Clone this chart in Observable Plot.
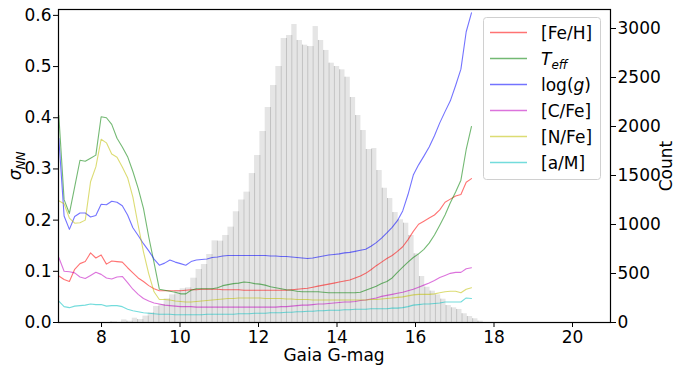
<!DOCTYPE html>
<html><head><meta charset="utf-8">
<script src="https://cdn.jsdelivr.net/npm/d3@7"></script>
<script src="https://cdn.jsdelivr.net/npm/@observablehq/plot@0.6"></script>
<style>
body{margin:0;background:#fff;}
#chart{width:676px;height:368px;}
</style></head><body><div id="chart"></div>
<script>
// Histogram of Gaia G-mag (right axis, counts)
const binStart = 8.241, binWidth = 0.1355;
const histCounts = [7,3,27,13,44,30,65,99,163,184,
  241,282,327,344,354,452,541,592,694,833,
  830,888,973,1130,1250,1330,1520,1704,1949,2194,
  2418,2612,2898,2929,3041,2878,2830,2816,3020,2878,
  2776,2646,2612,2578,2503,2296,2112,1959,1765,1775,
  1551,1370,1265,1122,1048,1013,888,701,469,360,
  320,282,238,173,150,133,89,61,38,13];

// sigma_NN curves sampled on a regular G-mag grid
const gStart = 6.912, gStep = 0.1348;
const feh = [0.091,0.084,0.080,0.104,0.115,0.119,0.136,0.126,0.132,0.114,
 0.120,0.119,0.118,0.107,0.097,0.087,0.080,0.072,0.066,0.062,
 0.062,0.062,0.062,0.062,0.063,0.064,0.064,0.065,0.065,0.065,
 0.065,0.064,0.064,0.064,0.064,0.063,0.063,0.063,0.063,0.063,
 0.063,0.063,0.063,0.063,0.064,0.065,0.066,0.067,0.069,0.071,
 0.073,0.075,0.077,0.079,0.081,0.083,0.087,0.091,0.096,0.103,
 0.111,0.118,0.125,0.131,0.139,0.148,0.162,0.178,0.192,0.198,
 0.204,0.210,0.220,0.235,0.241,0.247,0.250,0.274,0.281];
const teff = [0.405,0.240,0.213,0.265,0.317,0.315,0.321,0.327,0.402,0.400,
 0.387,0.360,0.343,0.324,0.295,0.262,0.223,0.167,0.117,0.065,
 0.063,0.061,0.059,0.056,0.056,0.063,0.066,0.066,0.066,0.066,
 0.068,0.072,0.074,0.076,0.077,0.079,0.078,0.076,0.075,0.073,
 0.070,0.068,0.066,0.064,0.063,0.061,0.060,0.060,0.060,0.060,
 0.059,0.058,0.058,0.058,0.058,0.058,0.058,0.059,0.063,0.067,
 0.071,0.076,0.080,0.087,0.098,0.108,0.118,0.127,0.134,0.143,
 0.155,0.171,0.190,0.210,0.234,0.255,0.278,0.338,0.383];
const logg = [0.360,0.208,0.182,0.207,0.214,0.214,0.206,0.209,0.231,0.230,
 0.237,0.235,0.228,0.210,0.185,0.170,0.154,0.140,0.124,0.112,
 0.116,0.122,0.118,0.115,0.112,0.119,0.122,0.123,0.124,0.127,
 0.128,0.130,0.131,0.131,0.131,0.131,0.131,0.131,0.131,0.131,
 0.130,0.130,0.129,0.129,0.128,0.127,0.126,0.125,0.126,0.128,
 0.130,0.132,0.133,0.134,0.136,0.137,0.139,0.141,0.143,0.149,
 0.156,0.165,0.175,0.186,0.199,0.218,0.250,0.288,0.308,0.325,
 0.343,0.365,0.390,0.412,0.433,0.463,0.495,0.568,0.605];
const cfe = [0.127,0.100,0.099,0.097,0.089,0.086,0.092,0.098,0.094,0.087,
 0.085,0.089,0.090,0.078,0.065,0.055,0.047,0.042,0.038,0.036,
 0.034,0.033,0.032,0.031,0.031,0.031,0.030,0.030,0.030,0.030,
 0.030,0.030,0.030,0.030,0.030,0.030,0.030,0.030,0.030,0.030,
 0.030,0.030,0.031,0.031,0.032,0.033,0.034,0.034,0.035,0.036,
 0.036,0.037,0.038,0.039,0.040,0.040,0.041,0.043,0.044,0.046,
 0.048,0.051,0.053,0.055,0.057,0.059,0.062,0.065,0.069,0.073,
 0.077,0.082,0.088,0.092,0.096,0.098,0.098,0.105,0.107];
const nfe = [0.238,0.232,0.204,0.194,0.195,0.200,0.275,0.304,0.358,0.351,
 0.329,0.323,0.304,0.283,0.245,0.190,0.138,0.095,0.060,0.045,
 0.045,0.044,0.042,0.041,0.040,0.040,0.041,0.042,0.043,0.044,
 0.045,0.046,0.047,0.047,0.048,0.048,0.048,0.048,0.048,0.047,
 0.047,0.047,0.047,0.046,0.046,0.045,0.045,0.045,0.044,0.044,
 0.044,0.044,0.044,0.044,0.044,0.044,0.044,0.044,0.044,0.045,
 0.045,0.046,0.047,0.048,0.049,0.050,0.052,0.054,0.055,0.055,
 0.055,0.056,0.058,0.060,0.061,0.061,0.058,0.065,0.068];
const am = [0.042,0.031,0.029,0.032,0.033,0.034,0.036,0.035,0.035,0.032,
 0.033,0.033,0.031,0.026,0.023,0.021,0.019,0.018,0.017,0.016,
 0.016,0.016,0.015,0.015,0.015,0.015,0.015,0.015,0.016,0.016,
 0.016,0.016,0.016,0.016,0.017,0.017,0.017,0.018,0.018,0.018,
 0.019,0.019,0.019,0.020,0.020,0.021,0.021,0.022,0.022,0.023,
 0.023,0.024,0.024,0.024,0.025,0.025,0.026,0.026,0.026,0.027,
 0.027,0.027,0.027,0.028,0.028,0.029,0.031,0.034,0.035,0.036,
 0.036,0.037,0.038,0.040,0.040,0.040,0.040,0.048,0.047];

const seriesNames = ["[Fe/H]", "Teff", "log(g)", "[C/Fe]", "[N/Fe]", "[a/M]"];
const seriesValues = [feh, teff, logg, cfe, nfe, am];
const seriesColors = ["#ff0000", "#008000", "#0000ff", "#bf00bf", "#bfbf00", "#00bfbf"];

const xTicks = [8, 10, 12, 14, 16, 18, 20];
const sigmaTicks = [0, 0.1, 0.2, 0.3, 0.4, 0.5, 0.6];
const countTicks = [0, 500, 1000, 1500, 2000, 2500, 3000];

const xDomain = [6.904, 20.968];
const sigmaMax = 0.6115, countMax = 3194;
const k = sigmaMax / countMax; // count -> sigma units (twin axis)

const hist = histCounts.map((c, i) => ({
  x1: binStart + i * binWidth, x2: binStart + (i + 1) * binWidth, c,
  edge: Math.min(c, i > 0 ? histCounts[i - 1] : c)
}));

const lines = seriesNames.map((name, s) =>
  seriesValues[s].map((v, j) => ({x: gStart + j * gStep, y: v, name})));

const font = "DejaVu Sans, sans-serif";

const plot = Plot.plot({
  width: 676, height: 368,
  marginLeft: 58, marginRight: 66, marginTop: 9, marginBottom: 46,
  x: {domain: xDomain},
  y: {domain: [0, sigmaMax]},
  style: {fontFamily: font, fontSize: "17px", color: "#000", background: "#fff", overflow: "visible"},
  marks: [
    Plot.rect(hist, {x1: "x1", x2: "x2", y1: 0, y2: d => d.c * k, fill: "#e5e5e5"}),
    Plot.ruleX(hist, {x: "x1", y1: 0, y2: d => d.edge * k, stroke: "#c2c2c2", strokeWidth: 1}),
    ...lines.map((data, s) => Plot.line(data, {x: "x", y: "y", stroke: seriesColors[s], strokeOpacity: 0.55, strokeWidth: 1.1})),
    Plot.frame({stroke: "#000", strokeWidth: 1.2}),
    Plot.axisX({ticks: xTicks, tickSize: 5, tickPadding: 3, label: null, fontSize: 17}),
    Plot.axisY({ticks: sigmaTicks, tickFormat: d3.format(".1f"), tickSize: 5, tickPadding: 2, label: null, fontSize: 17}),
    Plot.axisY({anchor: "right", ticks: countTicks.map(c => c * k), tickFormat: d => String(Math.round(d / k)),
      tickSize: 5, tickPadding: 2, label: null, fontSize: 17})
  ]
});
document.getElementById("chart").appendChild(plot);

const svg = d3.select(plot);
// axis titles
svg.append("text").attr("x", 334).attr("y", 361).attr("text-anchor", "middle")
  .attr("font-family", font).attr("font-size", 17).text("Gaia G-mag");
const yl = svg.append("text").attr("transform", "translate(21,166) rotate(-90)")
  .attr("text-anchor", "middle").attr("font-family", font).attr("font-size", 17);
yl.append("tspan").attr("font-style", "italic").text("σ");
yl.append("tspan").attr("font-style", "italic").attr("font-size", 12).attr("dy", 4).text("NN");
svg.append("text").attr("transform", "translate(672,166) rotate(-90)")
  .attr("text-anchor", "middle").attr("font-family", font).attr("font-size", 17).text("Count");

// legend
const lg = svg.append("g").attr("font-family", font).attr("font-size", 17).attr("text-anchor", "start");
lg.append("rect").attr("x", 483.5).attr("y", 17.5).attr("width", 117).attr("height", 162).attr("rx", 3)
  .attr("fill", "#fff").attr("fill-opacity", 0.85).attr("stroke", "#d0d0d0");
seriesNames.forEach((name, i) => {
  const y = 32.5 + i * 26;
  lg.append("line").attr("x1", 490).attr("x2", 527).attr("y1", y).attr("y2", y)
    .attr("stroke", seriesColors[i]).attr("stroke-opacity", 0.55).attr("stroke-width", 1.3);
  const t = lg.append("text").attr("x", 541).attr("y", y + 6).attr("text-anchor", "start");
  if (name === "Teff") {
    t.append("tspan").attr("font-style", "italic").text("T");
    t.append("tspan").attr("font-style", "italic").attr("font-size", 12).attr("dy", 4).text("eff");
  } else if (name === "log(g)") {
    t.append("tspan").text("log(");
    t.append("tspan").attr("font-style", "italic").text("g");
    t.append("tspan").text(")");
  } else {
    t.text(name);
  }
});
</script>
</body></html>
